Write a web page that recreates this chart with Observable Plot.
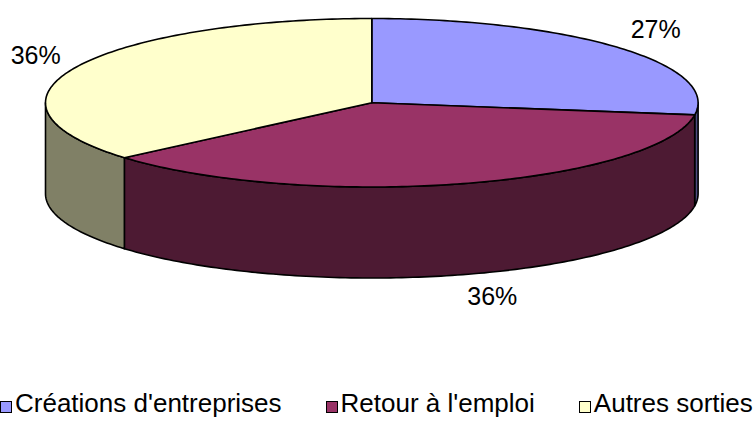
<!DOCTYPE html>
<html><head><meta charset="utf-8">
<script src="https://cdn.jsdelivr.net/npm/d3@7"></script>
<script src="https://cdn.jsdelivr.net/npm/@observablehq/plot@0.6"></script>
<style>
body{margin:0;background:#fff;font-family:"Liberation Sans",Arial,sans-serif;}
#chart{width:755px;height:429px;position:relative;overflow:hidden;background:#fff}
.legend{position:absolute;left:0;top:388px;display:flex;align-items:center;white-space:nowrap;font-size:26px;color:#000;line-height:30px}
.item{display:flex;align-items:center;margin-right:44px}
.sw{width:10px;height:10px;border:1px solid #000;margin-right:3px;margin-top:7px}
</style></head><body><div id="chart"></div>
<script>
const categories = ["Créations d'entreprises", "Retour à l'emploi", "Autres sorties"];
const shares = [27.3, 36.4, 36.3];
const labels = ["27%", "36%", "36%"];
const topColors = ["#9999FF", "#993366", "#FFFFCC"];
const sideColors = ["#4D4D80", "#4D1A33", "#808066"];

// 3D pie layout
const W = 755, H = 385;
const cx = 371.3, cy = 102.25, rx = 326.3, ry = 84.25, depth = 91;
const rad = d => d * Math.PI / 180;
const pt = (a, dy = 0) => ({x: cx + rx * Math.sin(rad(a)), y: cy - ry * Math.cos(rad(a)) + dy});
const arcPts = (a0, a1, dy = 0) => {
  const n = Math.max(2, Math.ceil(Math.abs(a1 - a0)));
  return d3.range(n + 1).map(i => pt(a0 + (a1 - a0) * i / n, dy));
};

const total = d3.sum(shares);
let acc = 0;
const slices = shares.map((v, i) => {
  const a0 = acc / total * 360; acc += v; const a1 = acc / total * 360;
  return {i, a0, a1, mid: (a0 + a1) / 2};
});

const walls = [];
const tops = [];
slices.forEach(s => {
  const w0 = Math.max(s.a0, 90), w1 = Math.min(s.a1, 270);
  if (w1 > w0) {
    const pts = [...arcPts(w0, w1, 0), ...arcPts(w1, w0, depth)];
    pts.forEach(p => walls.push({...p, id: s.i, fill: sideColors[s.i]}));
  }
  const tp = [{x: cx, y: cy}, ...arcPts(s.a0, s.a1, 0)];
  tp.forEach(p => tops.push({...p, id: s.i, fill: topColors[s.i]}));
});

const la = 16, lb = 27;
const labelData = slices.map(s => {
  const c = Math.cos(rad(s.mid)), sn = Math.sin(rad(s.mid));
  return {
    x: cx + (rx + la) * sn,
    y: cy - (ry + lb) * c + (c < 0 ? depth - 4 : 0),
    text: labels[s.i], right: sn >= 0
  };
});

const plot = Plot.plot({
  width: W, height: H, margin: 0,
  x: {domain: [0, W], range: [0, W], axis: null},
  y: {domain: [0, H], range: [0, H], axis: null},
  marks: [
    Plot.line(walls, {x: "x", y: "y", z: "id", fill: "fill", stroke: "#000", strokeWidth: 1.6, curve: "linear-closed", strokeLinejoin: "round"}),
    Plot.line(tops, {x: "x", y: "y", z: "id", fill: "fill", stroke: "#000", strokeWidth: 1.6, curve: "linear-closed", strokeLinejoin: "round"}),
    Plot.text(labelData.filter(d => d.right), {x: "x", y: "y", text: "text", textAnchor: "start", lineAnchor: "middle", fontSize: 25, fill: "#000"}),
    Plot.text(labelData.filter(d => !d.right), {x: "x", y: "y", text: "text", textAnchor: "end", lineAnchor: "middle", fontSize: 25, fill: "#000"})
  ],
  style: {fontFamily: "'Liberation Sans', Arial, sans-serif", background: "#fff"}
});

const chart = document.getElementById("chart");
chart.appendChild(plot);
const legend = document.createElement("div");
legend.className = "legend";
categories.forEach((c, i) => {
  const item = document.createElement("div");
  item.className = "item";
  const sw = document.createElement("span");
  sw.className = "sw";
  sw.style.background = topColors[i];
  const t = document.createElement("span");
  t.textContent = c;
  item.appendChild(sw); item.appendChild(t);
  legend.appendChild(item);
});
chart.appendChild(legend);
</script></body></html>
